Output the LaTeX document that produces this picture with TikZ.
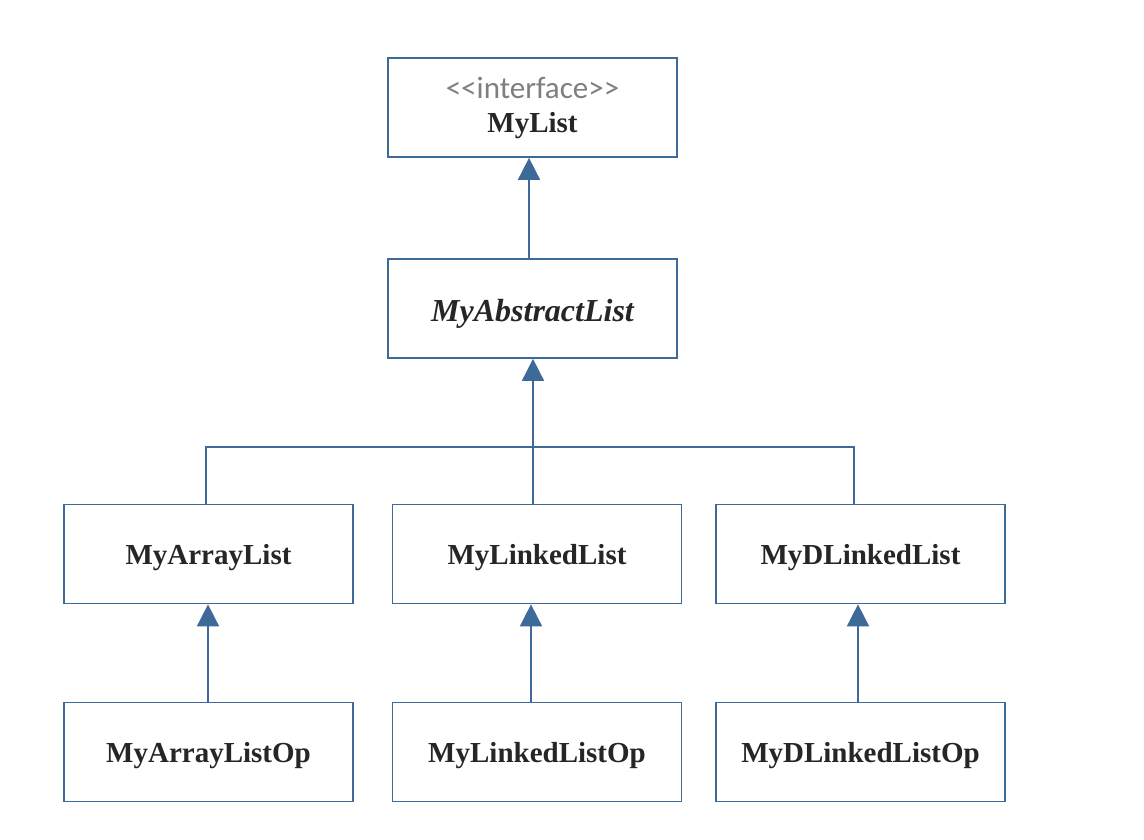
\documentclass[tikz,border=0pt]{standalone}
\usepackage{fontspec}
\setmainfont{Liberation Serif}
\newfontfamily\ifacefont{Carlito}
\usetikzlibrary{arrows.meta}
\definecolor{umlblue}{HTML}{3E6A9A}
\definecolor{ifacegray}{HTML}{7F7F7F}
\newcommand{\lowr}[2]{\raisebox{-#1}[\height][\depth]{#2}}
\tikzset{
  cls/.style={draw=umlblue, line width=1.7pt, fill=white, minimum width=289pt, minimum height=99pt, inner sep=0pt, font=\fontsize{29}{32}\selectfont\bfseries, text=black!85},
  inh/.style={draw=umlblue, line width=1.7pt, -{Triangle[length=22pt,width=22pt,fill=umlblue]}},
  link/.style={draw=umlblue, line width=1.7pt},
}
\begin{document}
\begin{tikzpicture}[x=1pt,y=-1pt]
\useasboundingbox (0,0) rectangle (1144,840);
\node[cls, align=center] (mylist) at (532.5,107.5) {{\ifacefont\mdseries\color{ifacegray}\fontsize{31}{32}\selectfont <{}<interface>{}>}\\[2pt] MyList};
\node[cls] (abs) at (532.5,308.5) {\fontsize{32}{34}\selectfont\itshape\lowr{5pt}{MyAbstractList}};
\node[cls] (al) at (208.5,554) {\lowr{4pt}{MyArrayList}};
\node[cls] (ll) at (537,554) {\lowr{4pt}{MyLinkedList}};
\node[cls] (dl) at (860.5,554) {\lowr{4pt}{MyDLinkedList}};
\node[cls] (alo) at (208.5,752) {\lowr{4pt}{MyArrayListOp}};
\node[cls] (llo) at (537,752) {\lowr{4pt}{MyLinkedListOp}};
\node[cls] (dlo) at (860.5,752) {\lowr{4pt}{MyDLinkedListOp}};
\coordinate (j) at (533,447);
\coordinate (jl) at (206,447);
\coordinate (jr) at (854,447);
\draw[inh] (abs.north -| 529,0) -- (mylist.south -| 529,0);
\draw[link] (al.north -| jl) -- (jl) -- (jr) -- (dl.north -| jr);
\draw[inh] (ll.north -| j) -- (abs.south -| j);
\draw[inh] (alo.north -| 208,0) -- (al.south -| 208,0);
\draw[inh] (llo.north -| 531,0) -- (ll.south -| 531,0);
\draw[inh] (dlo.north -| 858,0) -- (dl.south -| 858,0);
\end{tikzpicture}
\end{document}
